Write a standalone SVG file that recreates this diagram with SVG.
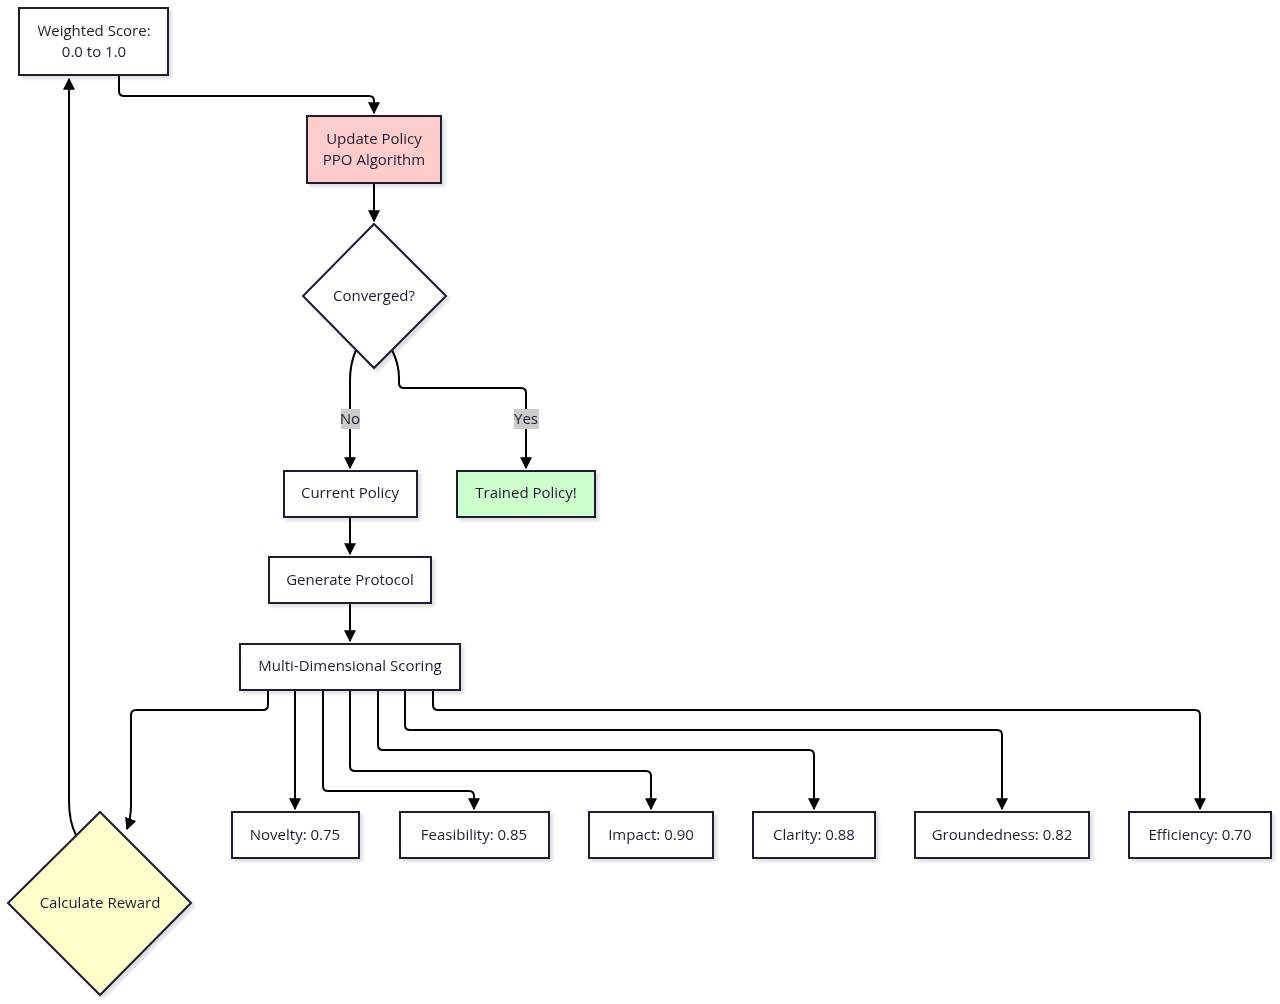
<svg xmlns="http://www.w3.org/2000/svg" width="1280" height="1004" viewBox="0 0 1280 1004">
<defs>
<style>
.n{fill:#ffffff;stroke:#1c1c34;stroke-width:2}
.t{font-family:"Open Sans","Liberation Sans",sans-serif;font-size:15px;fill:#1e1e36;text-anchor:middle;dominant-baseline:central}
.e{fill:none;stroke:#000;stroke-width:2}
.lb{fill:#cccccc}
</style>
<filter id="sh" x="-10%" y="-10%" width="130%" height="130%">
<feDropShadow dx="3" dy="3" stdDeviation="1.5" flood-color="#000" flood-opacity="0.12"/>
</filter>
<marker id="ah" viewBox="0 0 10 10" refX="9" refY="5" markerWidth="12" markerHeight="12" markerUnits="userSpaceOnUse" orient="auto">
<path d="M0,0 L10,5 L0,10 z" fill="#000"/>
</marker>
</defs>
<rect width="1280" height="1004" fill="#ffffff"/>
<g id="connectors">
<path class="e" marker-end="url(#ah)" d="M119,75 L119,91 Q119,96 124,96 L369,96 Q374,96 374,101 L374,113"/>
<path class="e" marker-end="url(#ah)" d="M374,183 L374,221"/>
<path class="e" marker-end="url(#ah)" d="M356,350 Q350,364 350,380 L350,468"/>
<path class="e" marker-end="url(#ah)" d="M392,350 Q399,364 399,378 L399,383 Q399,388 404,388 L521,388 Q526,388 526,393 L526,468"/>
<path class="e" marker-end="url(#ah)" d="M350,517 L350,554"/>
<path class="e" marker-end="url(#ah)" d="M350,603 L350,641"/>
<path class="e" marker-end="url(#ah)" d="M268,690 L268,705 Q268,710 263,710 L136,710 Q131,710 131,715 L131,805 Q131,818 127,829"/>
<path class="e" marker-end="url(#ah)" d="M295,690 L295,809"/>
<path class="e" marker-end="url(#ah)" d="M323,690 L323,786 Q323,791 328,791 L469,791 Q474,791 474,796 L474,809"/>
<path class="e" marker-end="url(#ah)" d="M350,690 L350,766 Q350,771 355,771 L646,771 Q651,771 651,776 L651,809"/>
<path class="e" marker-end="url(#ah)" d="M378,690 L378,745 Q378,750 383,750 L809,750 Q814,750 814,755 L814,809"/>
<path class="e" marker-end="url(#ah)" d="M405,690 L405,725 Q405,730 410,730 L997,730 Q1002,730 1002,735 L1002,809"/>
<path class="e" marker-end="url(#ah)" d="M433,690 L433,705 Q433,710 438,710 L1195,710 Q1200,710 1200,715 L1200,809"/>
<path class="e" marker-end="url(#ah)" d="M76,835 Q69,822 69,800 L69,79"/>
<rect class="lb" x="341" y="409" width="19" height="20"/>
<text class="t" x="350" y="418">No</text>
<rect class="lb" x="514" y="409" width="25" height="20"/>
<text class="t" x="526" y="418">Yes</text>
</g>
<g id="weighted" filter="url(#sh)">
<rect class="n" x="19" y="8" width="149" height="67"/>
<text class="t" x="94" y="30">Weighted Score:</text>
<text class="t" x="94" y="51">0.0 to 1.0</text>
</g>
<g id="update" filter="url(#sh)">
<rect class="n" x="307" y="116" width="134" height="67" style="fill:#ffcccc"/>
<text class="t" x="374" y="138">Update Policy</text>
<text class="t" x="374" y="159">PPO Algorithm</text>
</g>
<g id="converged" filter="url(#sh)">
<polygon class="n" points="374,224 446,296 374,368 303,296"/>
<text class="t" x="374" y="295">Converged?</text>
</g>
<g id="current" filter="url(#sh)">
<rect class="n" x="284" y="471" width="133" height="46"/>
<text class="t" x="350" y="492">Current Policy</text>
</g>
<g id="trained" filter="url(#sh)">
<rect class="n" x="457" y="471" width="138" height="46" style="fill:#ccffcc"/>
<text class="t" x="526" y="492">Trained Policy!</text>
</g>
<g id="generate" filter="url(#sh)">
<rect class="n" x="269" y="557" width="162" height="46"/>
<text class="t" x="350" y="579">Generate Protocol</text>
</g>
<g id="multi" filter="url(#sh)">
<rect class="n" x="240" y="644" width="220" height="46"/>
<text class="t" x="350" y="665">Multi-Dimensional Scoring</text>
</g>
<g id="novelty" filter="url(#sh)">
<rect class="n" x="232" y="812" width="127" height="46"/>
<text class="t" x="295" y="834">Novelty: 0.75</text>
</g>
<g id="feasibility" filter="url(#sh)">
<rect class="n" x="400" y="812" width="149" height="46"/>
<text class="t" x="474" y="834">Feasibility: 0.85</text>
</g>
<g id="impact" filter="url(#sh)">
<rect class="n" x="589" y="812" width="124" height="46"/>
<text class="t" x="651" y="834">Impact: 0.90</text>
</g>
<g id="clarity" filter="url(#sh)">
<rect class="n" x="753" y="812" width="122" height="46"/>
<text class="t" x="814" y="834">Clarity: 0.88</text>
</g>
<g id="groundedness" filter="url(#sh)">
<rect class="n" x="915" y="812" width="174" height="46"/>
<text class="t" x="1002" y="834">Groundedness: 0.82</text>
</g>
<g id="efficiency" filter="url(#sh)">
<rect class="n" x="1129" y="812" width="142" height="46"/>
<text class="t" x="1200" y="834">Efficiency: 0.70</text>
</g>
<g id="reward" filter="url(#sh)">
<polygon class="n" points="100,812 191,903 100,995 8,903" style="fill:#ffffcc"/>
<text class="t" x="100" y="902">Calculate Reward</text>
</g>
</svg>
